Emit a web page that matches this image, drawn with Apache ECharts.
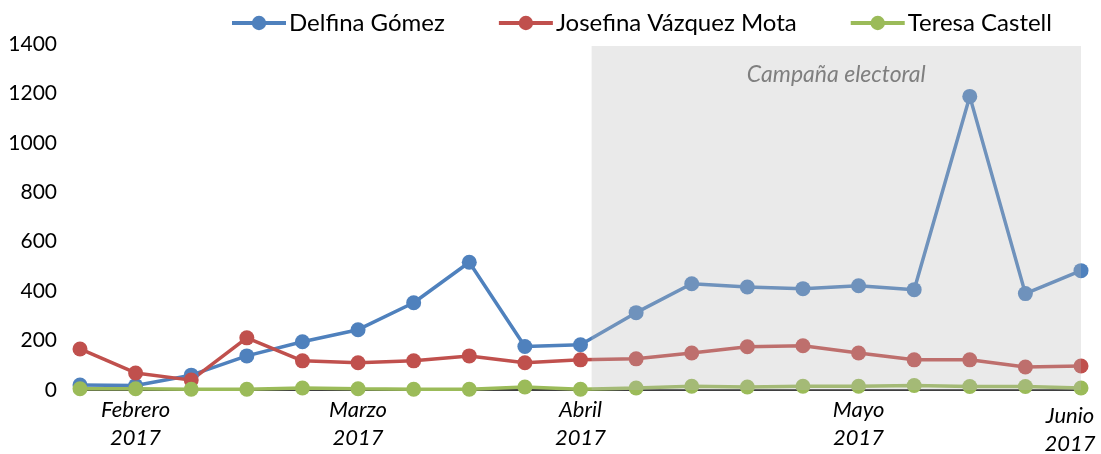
<!DOCTYPE html>
<html>
<head>
<meta charset="utf-8">
<script src="https://cdn.jsdelivr.net/npm/echarts@6/dist/echarts.min.js"></script>
<style>
  html, body { margin: 0; padding: 0; background: #fff; }
  #chart { width: 1101px; height: 454px; }
</style>
</head>
<body>
<div id="chart"></div>
<script>
// semanas, etiquetas sólo en algunas
const categories = ['', 'Febrero\n2017', '', '', '', 'Marzo\n2017', '', '', '', 'Abril\n2017',
    '', '', '', '', 'Mayo\n2017', '', '', '', 'Junio\n2017']
const delfina = [20, 18, 60, 138, 195, 244, 353, 517, 176, 183, 313, 430, 417, 410, 422, 406, 1188, 390, 483]
const josefina = [166, 69, 40, 211, 118, 110, 118, 138, 110, 122, 126, 150, 175, 179, 150, 122, 122, 93, 97]
const teresa = [5, 5, 3, 3, 8, 5, 3, 3, 12, 3, 8, 15, 12, 15, 15, 18, 14, 14, 8]
const yTicks = [0, 200, 400, 600, 800, 1000, 1200, 1400]
// periodo de campaña (posición en semanas)
const campana = [9.2, 18.05]

const font = 'Lato, "Open Sans", sans-serif'

let chartDom = document.getElementById('chart')
let myChart = echarts.init(chartDom)

const lineSerie = (name, color, data) => {
    return {
        name: name,
        type: 'line',
        data: data,
        z: 2,
        symbol: 'circle',
        symbolSize: 15,
        lineStyle: { color: color, width: 3.5 },
        itemStyle: { color: color },
        emphasis: { disabled: true },
    }
}

let option = {
    animation: false,
    color: ['#4F81BD', '#C0504D', '#9BBB59'],
    legend: {
        left: 225,
        top: 6,
        itemWidth: 54,
        itemHeight: 18,
        itemGap: 52,
        lineStyle: { width: 4 },
        textStyle: { fontFamily: font, fontSize: 24, color: '#000', padding: [0, 0, 0, -2] },
        data: ['Delfina Gómez', 'Josefina Vázquez Mota', 'Teresa Castell'],
    },
    grid: { left: 80, right: 20, top: 44, bottom: 64, outerBoundsMode: 'none' },
    xAxis: [
        {
            type: 'category',
            boundaryGap: false,
            data: categories.map((c, i) => i == categories.length - 1
                ? { value: c, textStyle: { padding: [6, 22, 0, 0] } }
                : c),
            axisTick: { show: false },
            axisLine: { lineStyle: { color: '#000', width: 1.5 } },
            axisLabel: {
                interval: 0,
                margin: 6,
                fontFamily: font,
                fontSize: 22,
                fontStyle: 'italic',
                color: '#000',
                lineHeight: 28,
            },
        },
        {
            // eje auxiliar para sombrear la campaña
            type: 'value',
            show: false,
            min: 0,
            max: categories.length - 1,
        },
    ],
    yAxis: {
        type: 'value',
        min: yTicks[0],
        max: yTicks[yTicks.length - 1],
        interval: 200,
        axisLine: { show: false },
        axisTick: { show: false },
        splitLine: { show: false },
        axisLabel: {
            margin: 23,
            fontFamily: font,
            fontSize: 21,
            color: '#000',
            formatter: (v) => String(v),
        },
    },
    series: [
        lineSerie('Delfina Gómez', '#4F81BD', delfina),
        lineSerie('Josefina Vázquez Mota', '#C0504D', josefina),
        lineSerie('Teresa Castell', '#9BBB59', teresa),
        {
            name: 'campana',
            type: 'line',
            xAxisIndex: 1,
            data: [],
            z: 10,
            silent: true,
            markArea: {
                z: 10,
                silent: true,
                itemStyle: { color: 'rgba(187,187,187,0.3)' },
                label: {
                    show: true,
                    position: 'insideTop',
                    distance: 17,
                    fontFamily: font,
                    fontSize: 23,
                    fontStyle: 'italic',
                    color: '#7F7F7F',
                },
                data: [[
                    { name: 'Campaña electoral', xAxis: campana[0], yAxis: 1392 },
                    { xAxis: campana[1], yAxis: 0 },
                ]],
            },
        },
    ],
}

option && myChart.setOption(option)
window.addEventListener('resize', myChart.resize)
</script>
</body>
</html>
